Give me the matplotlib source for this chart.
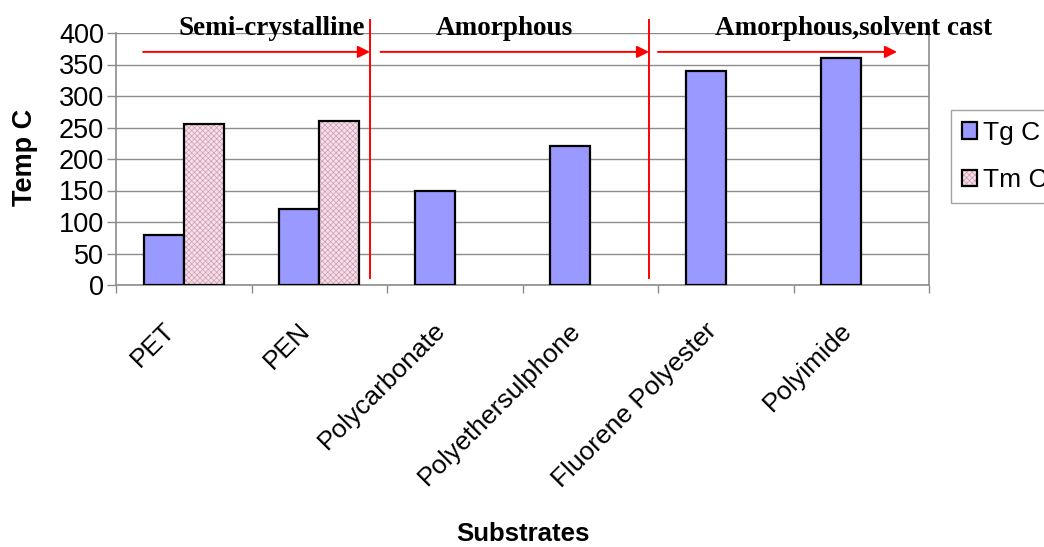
import matplotlib

matplotlib.use("Agg")
import matplotlib.pyplot as plt
import numpy as np
from matplotlib.patches import Patch
from matplotlib.transforms import ScaledTranslation

plt.rcParams["font.family"] = ["Liberation Sans", "DejaVu Sans"]
plt.rcParams["hatch.linewidth"] = 0.5

# --------------------------------------------------------------------------- #
# Data.
# --------------------------------------------------------------------------- #
substrates = ["PET", "PEN", "Polycarbonate", "Polyethersulphone",
              "Fluorene Polyester", "Polyimide"]
tg_values = [80, 120, 150, 220, 340, 360]
tm_values = [255, 260, np.nan, np.nan, np.nan, np.nan]
y_ticks = [0, 50, 100, 150, 200, 250, 300, 350, 400]
series_names = ["Tg C", "Tm C"]

# group annotations drawn on top of the chart (labels, arrow spans, dividers)
group_labels = ["Semi-crystalline", "Amorphous", "Amorphous,solvent cast"]
group_label_x = [0.648, 2.363, 4.946]
group_arrows = [(-0.30, 1.374), (1.452, 3.434), (3.50, 5.264)]
dividers = [1.374, 3.434]

TG_COLOR = "#9999FF"
TM_FILL = "#F3E0E8"
TM_HATCH = "#D29AB2"
GRID = "#8C8C8C"

fig = plt.figure(figsize=(10.44, 5.47), dpi=100)
ax = fig.add_axes([116 / 1044, 1 - 285 / 547, (929 - 116) / 1044, (285 - 33) / 547])

x = np.arange(len(substrates))
w = 0.296

ax.bar(x - w / 2, tg_values, w, color=TG_COLOR, edgecolor="black", linewidth=1.6, zorder=3)
# Tm: pink textured fill first, then the black outline on top
ax.bar(x + w / 2, tm_values, w, color=TM_FILL, edgecolor=TM_HATCH, hatch="xxxxxx",
       linewidth=0, zorder=3)
ax.bar(x + w / 2, tm_values, w, fill=False, edgecolor="black", linewidth=1.6, zorder=4)

ax.set_xlim(-0.5, len(substrates) - 0.5)
ax.set_ylim(0, 400)
ax.set_yticks(y_ticks)
ax.yaxis.grid(True, color=GRID, linewidth=1.0, zorder=0)
ax.set_axisbelow(True)

for side in ("left", "bottom", "right"):
    ax.spines[side].set_color(GRID)
    ax.spines[side].set_linewidth(1.2)
ax.spines["top"].set_visible(False)

ax.tick_params(axis="y", length=6.5, width=1.0, color=GRID, pad=2, labelsize=19.5)

# category boundaries carry the tick marks, centers carry the labels
ax.set_xticks(np.arange(-0.5, len(substrates), 1.0))
ax.set_xticklabels([])
ax.set_xticks(x, minor=True)
ax.set_xticklabels(substrates, minor=True, rotation=45, ha="right", va="center",
                   rotation_mode="anchor", fontsize=19)
ax.tick_params(axis="x", which="major", length=6, width=1.0, color=GRID)
ax.tick_params(axis="x", which="minor", length=0, pad=30)
shift = ScaledTranslation(-13 / 100, 0, fig.dpi_scale_trans)
for lab in ax.get_xticklabels(minor=True):
    lab.set_transform(lab.get_transform() + shift)

fig.text(25 / 1044, 1 - 157 / 547, "Temp C", rotation=90, ha="center", va="center",
         fontsize=19.5, fontweight="bold")
fig.text(523 / 1044, 1 - 541 / 547, "Substrates", ha="center", va="baseline",
         fontsize=18.5, fontweight="bold")

# red group markers
for xd in dividers:
    ax.plot([xd, xd], [11, 421], color="red", linewidth=1.4, clip_on=False, zorder=6)
for x0, x1 in group_arrows:
    ax.annotate("", xy=(x1, 370), xytext=(x0, 370), annotation_clip=False,
                arrowprops=dict(arrowstyle="-|>", color="red", lw=1.4,
                                mutation_scale=18, shrinkA=0, shrinkB=0), zorder=6)
for lbl, xl in zip(group_labels, group_label_x):
    ax.text(xl, 397, lbl, ha="center", va="baseline", fontsize=19.5, fontweight="bold",
            family=["Liberation Serif", "DejaVu Serif"], zorder=7, clip_on=False)

# legend, partly cut off at the right edge like the original
tg_handle = Patch(facecolor=TG_COLOR, edgecolor="black", linewidth=1.6)
tm_fill = Patch(facecolor=TM_FILL, edgecolor=TM_HATCH, hatch="xxxxxx", linewidth=0)
tm_edge = Patch(fill=False, edgecolor="black", linewidth=1.6)
leg = fig.legend([tg_handle, (tm_fill, tm_edge)], series_names,
                 loc="upper left", bbox_to_anchor=(951 / 1044, 1 - 110 / 547),
                 fontsize=19, frameon=True, fancybox=False, borderpad=0.4,
                 handlelength=0.6, handleheight=0.6, handletextpad=0.2,
                 labelspacing=0.9, borderaxespad=0)
leg.get_frame().set_edgecolor(GRID)
leg.get_frame().set_linewidth(1.0)

fig.savefig("out.png", dpi=100)
plt.close(fig)
